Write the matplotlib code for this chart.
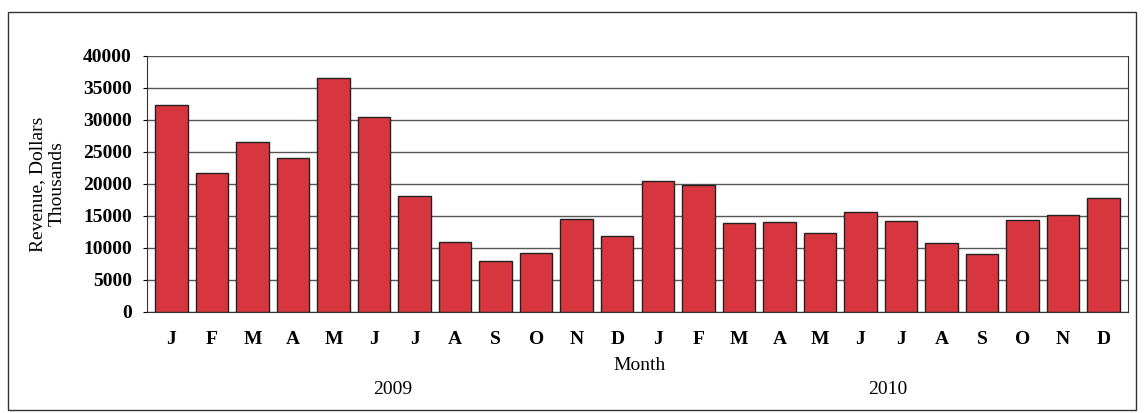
import matplotlib
matplotlib.use("Agg")
import matplotlib.pyplot as plt
from matplotlib.patches import Rectangle

months = ["J", "F", "M", "A", "M", "J", "J", "A", "S", "O", "N", "D",
          "J", "F", "M", "A", "M", "J", "J", "A", "S", "O", "N", "D"]
revenue = [32400, 21700, 26500, 24000, 36600, 30400, 18050, 10900, 8000, 9250, 14550, 11850,
           20400, 19900, 13850, 14000, 12400, 15550, 14250, 10850, 9100, 14400, 15150, 17750]
years = ["2009", "2010"]
yticks = [0, 5000, 10000, 15000, 20000, 25000, 30000, 35000, 40000]

plt.rcParams['font.family'] = ['Liberation Serif', 'DejaVu Serif']

fig = plt.figure(figsize=(11.44, 4.13), dpi=100)
fig.patches.append(Rectangle((8/1144, 3/413), 1128/1144, 398/413, transform=fig.transFigure,
                             fill=False, edgecolor='#333333', linewidth=1.0))
ax = fig.add_axes([147/1144, 1-312/413, 981/1144, 256/413])
x = list(range(len(months)))
ax.bar(x, revenue, width=0.8, color='#d8363f', edgecolor='#222222', linewidth=1.0, zorder=3)
ax.set_xlim(-0.6, len(months) - 0.4)
ax.set_ylim(0, 40000)
ax.set_yticks(yticks)
ax.set_yticklabels([str(v) for v in yticks], fontweight='bold', fontsize=14)
ax.set_xticks(x)
ax.set_xticklabels(months, fontweight='bold', fontsize=14)
ax.tick_params(axis='y', length=3, pad=8)
ax.tick_params(axis='x', length=0, pad=14)
ax.grid(axis='y', color='#555555', linewidth=1.0, zorder=0)
ax.spines['top'].set_visible(False)
for s in ['left', 'bottom', 'right']:
    ax.spines[s].set_color('#333333')
ax.set_ylabel("Revenue, Dollars\nThousands", fontsize=14, labelpad=12)
fig.text(640/1144, 1-366/413, "Month", ha='center', va='center', fontsize=14)
fig.text(393/1144, 1-390/413, years[0], ha='center', va='center', fontsize=14)
fig.text(888/1144, 1-390/413, years[1], ha='center', va='center', fontsize=14)

fig.savefig("out.png", dpi=100)
